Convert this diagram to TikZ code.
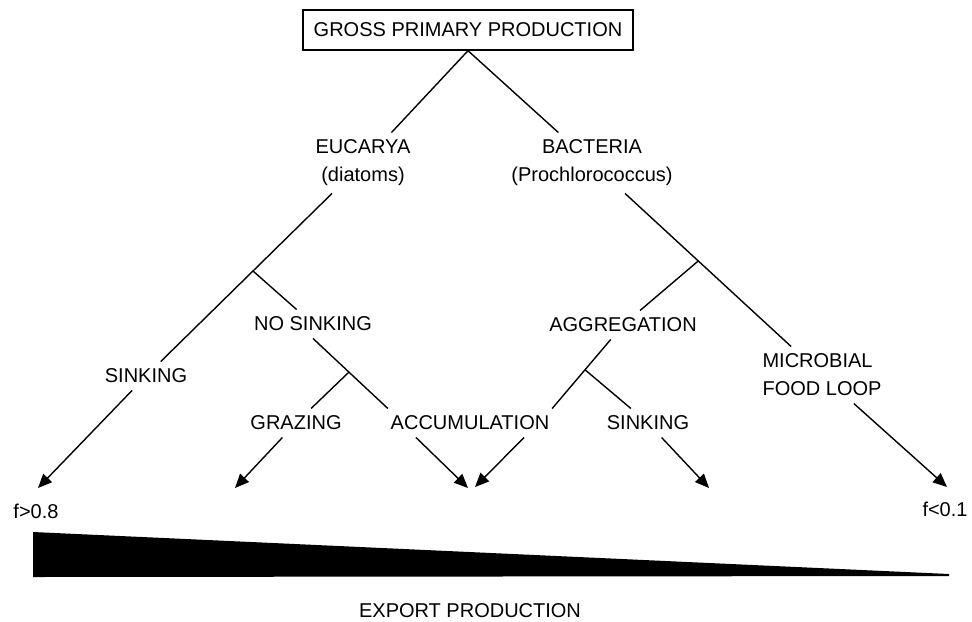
\documentclass[tikz,border=0pt]{standalone}
\usepackage{fontspec}
\setmainfont{Liberation Sans}
\usetikzlibrary{arrows.meta,calc}
\tikzset{
  >={Triangle[length=7pt,width=6pt]},
  lbl/.style={font=\fontsize{10}{14}\selectfont,inner sep=3.5pt,align=center},
  titlebox/.style={lbl,draw,line width=0.7pt,minimum width=165pt,minimum height=20pt},
  branch/.style={line width=0.7pt},
  flow/.style={->,line width=0.7pt},
}

\begin{document}
\begin{tikzpicture}[x=0.5pt,y=-0.5pt]
  \useasboundingbox (0,0) rectangle (972,621);
  % labels
  \node[titlebox] (gpp) at (468,30) {GROSS PRIMARY PRODUCTION};
  \node[lbl] (euc) at (363,163) {EUCARYA\\(diatoms)};
  \node[lbl] (bac) at (592,163) {BACTERIA\\(Prochlorococcus)};
  \node[lbl] (sinkA) at (146,376) {SINKING};
  \node[lbl] (nosink) at (313,324) {NO SINKING};
  \node[lbl] (graz) at (296,423) {GRAZING};
  \node[lbl] (accum) at (470,423) {ACCUMULATION};
  \node[lbl] (aggr) at (623,325) {AGGREGATION};
  \node[lbl] (sinkB) at (648,423) {SINKING};
  \node[lbl,align=left] (micro) at (822,375) {MICROBIAL\\FOOD LOOP};
  \node[lbl] (fhi) at (36,511) {f>0.8};
  \node[lbl] (flo) at (945,509) {f<0.1};
  \node[lbl] (export) at (470,611) {EXPORT PRODUCTION};
  % branch points and arrow ends
  \coordinate (jE) at ($(euc)!0.507!(sinkA)$);
  \coordinate (jN) at ($(nosink.south)!0.48!(accum.170)$);
  \coordinate (jB) at ($(bac)!0.462!(micro)$);
  \coordinate (jA) at ($(aggr)!0.536!(accum.10)$);
  \coordinate (eSinkA) at (38,488);
  \coordinate (eGraz) at (235,488);
  \coordinate (eAccL) at (468,488);
  \coordinate (eAccR) at (475,487);
  \coordinate (eSinkB) at (709,488);
  \coordinate (eMicro) at (947,487);
  % tree
  \draw[branch] (gpp.south) -- (euc);
  \draw[branch] (gpp.south) -- (bac);
  \draw[branch] (euc) -- (sinkA);
  \draw[branch] (jE) -- (nosink);
  \draw[branch] (nosink.south) -- (accum.170);
  \draw[branch] (jN) -- (graz);
  \draw[branch] (bac) -- (micro);
  \draw[branch] (jB) -- (aggr);
  \draw[branch] (aggr) -- (accum.10);
  \draw[branch] (jA) -- (sinkB);
  % arrows
  \draw[flow] (sinkA) -- (eSinkA);
  \draw[flow] (graz) -- (eGraz);
  \draw[flow] (accum.-165) -- (eAccL);
  \draw[flow] (accum.-15) -- (eAccR);
  \draw[flow] (sinkB) -- (eSinkB);
  \draw[flow] (micro) -- (eMicro);
  % export wedge
  \fill (33,532) -- (33,577) -- (949,576) -- (949,574) -- cycle;
\end{tikzpicture}
\end{document}
